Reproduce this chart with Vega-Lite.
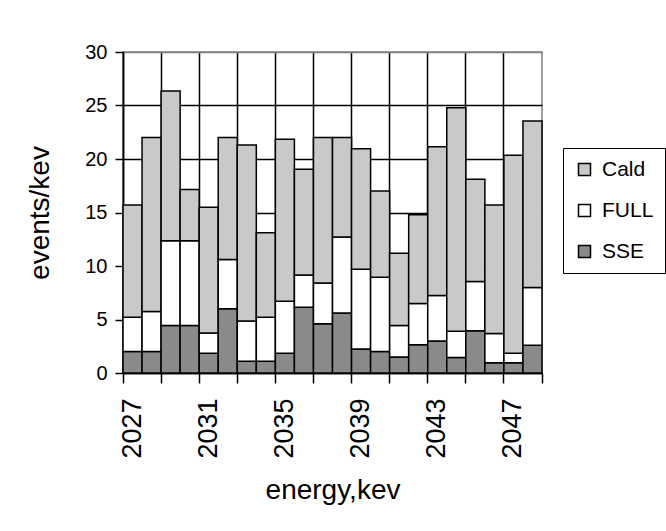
{
  "$schema": "https://vega.github.io/schema/vega-lite/v6.json",
  "autosize": {"type": "none"},
  "padding": {"left": 123, "top": 52, "right": 124, "bottom": 158},
  "width": 419,
  "height": 321,
  "background": "white",
  "config": {
    "font": "Liberation Sans",
    "view": {"stroke": "#808080", "strokeWidth": 1.5},
    "axis": {"labelColor": "black", "titleColor": "black", "titleFontWeight": "normal", "labelFont": "Liberation Sans", "titleFont": "Liberation Sans"},
    "legend": {"labelFont": "Liberation Sans"}
  },
  "data": {
    "values": [
      {"energy": 2027, "SSE": 2.0, "FULL": 3.2, "Cald": 10.5},
      {"energy": 2028, "SSE": 2.0, "FULL": 3.75, "Cald": 16.25},
      {"energy": 2029, "SSE": 4.45, "FULL": 7.9, "Cald": 14.0},
      {"energy": 2030, "SSE": 4.45, "FULL": 7.9, "Cald": 4.8},
      {"energy": 2031, "SSE": 1.85, "FULL": 1.9, "Cald": 11.75},
      {"energy": 2032, "SSE": 6.0, "FULL": 4.6, "Cald": 11.4},
      {"energy": 2033, "SSE": 1.1, "FULL": 3.75, "Cald": 16.45},
      {"energy": 2034, "SSE": 1.1, "FULL": 4.1, "Cald": 7.9},
      {"energy": 2035, "SSE": 1.85, "FULL": 4.85, "Cald": 15.15},
      {"energy": 2036, "SSE": 6.15, "FULL": 3.0, "Cald": 9.9},
      {"energy": 2037, "SSE": 4.6, "FULL": 3.8, "Cald": 13.6},
      {"energy": 2038, "SSE": 5.6, "FULL": 7.1, "Cald": 9.3},
      {"energy": 2039, "SSE": 2.25, "FULL": 7.45, "Cald": 11.25},
      {"energy": 2040, "SSE": 2.0, "FULL": 6.95, "Cald": 8.05},
      {"energy": 2041, "SSE": 1.5, "FULL": 2.95, "Cald": 6.75},
      {"energy": 2042, "SSE": 2.65, "FULL": 3.85, "Cald": 8.3},
      {"energy": 2043, "SSE": 3.0, "FULL": 4.25, "Cald": 13.9},
      {"energy": 2044, "SSE": 1.45, "FULL": 2.45, "Cald": 20.9},
      {"energy": 2045, "SSE": 3.95, "FULL": 4.6, "Cald": 9.55},
      {"energy": 2046, "SSE": 0.95, "FULL": 2.75, "Cald": 12.0},
      {"energy": 2047, "SSE": 0.95, "FULL": 0.9, "Cald": 18.5},
      {"energy": 2048, "SSE": 2.6, "FULL": 5.4, "Cald": 15.55}
    ]
  },
  "transform": [{"fold": ["SSE", "FULL", "Cald"], "as": ["series", "value"]}],
  "layer": [
    {
      "mark": {"type": "bar", "stroke": "black", "strokeWidth": 1.5},
      "encoding": {
        "x": {
          "field": "energy", "type": "ordinal",
          "scale": {"paddingInner": 0, "paddingOuter": 0},
          "axis": {
            "orient": "bottom",
            "values": [2027, 2029, 2031, 2033, 2035, 2037, 2039, 2041, 2043, 2045, 2047],
            "bandPosition": 0,
            "labels": false,
            "title": null,
            "ticks": true, "tickSize": 10, "tickColor": "black", "tickWidth": 1.5,
            "domain": true, "domainColor": "black", "domainWidth": 1.5,
            "grid": true, "gridWidth": 1.5, "gridColor": "black"
          }
        },
        "y": {
          "field": "value", "type": "quantitative", "stack": "zero",
          "scale": {"domain": [0, 30], "nice": false},
          "axis": {
            "values": [0, 5, 10, 15, 20, 25, 30],
            "title": "events/kev", "titleFontSize": 28, "titlePadding": 30,
            "labelFontSize": 20, "labelPadding": 8,
            "tickSize": 8, "tickColor": "black", "tickWidth": 1.5,
            "domainColor": "black", "domainWidth": 1.5,
            "grid": true, "gridWidth": 1.5,
            "gridColor": {"condition": {"test": "datum.value === 30", "value": "#808080"}, "value": "black"}
          }
        },
        "color": {
          "field": "series", "type": "nominal",
          "scale": {"domain": ["Cald", "FULL", "SSE"], "range": ["#c9c9c9", "#ffffff", "#8a8a8a"]},
          "legend": {
            "title": null, "orient": "none", "legendX": 440, "legendY": 96,
            "strokeColor": "black", "padding": 11,
            "symbolType": "square", "symbolSize": 144, "symbolStrokeColor": "black", "symbolStrokeWidth": 1.5,
            "labelFontSize": 21, "labelColor": "black", "labelOffset": 7, "rowPadding": 19
          }
        },
        "order": {"field": "series", "sort": "descending"}
      }
    },
    {
      "mark": {"type": "tick", "opacity": 0},
      "encoding": {
        "x": {
          "field": "energy", "type": "ordinal",
          "axis": {
            "orient": "bottom",
            "values": [2027, 2031, 2035, 2039, 2043, 2047],
            "domain": false, "ticks": false, "tickSize": 0, "grid": false,
            "labelAngle": -90, "labelFontSize": 27, "labelPadding": 25,
            "title": "energy,kev", "titleFontSize": 28, "titlePadding": 18
          }
        }
      }
    },
    {
      "mark": {"type": "tick", "opacity": 0},
      "encoding": {
        "x": {
          "field": "energy", "type": "ordinal",
          "axis": {
            "orient": "bottom",
            "values": [2048],
            "bandPosition": 1,
            "domain": false, "labels": false, "grid": false, "title": null,
            "ticks": true, "tickSize": 10, "tickColor": "black", "tickWidth": 1.5
          }
        }
      }
    }
  ],
  "resolve": {"axis": {"x": "independent"}}
}
